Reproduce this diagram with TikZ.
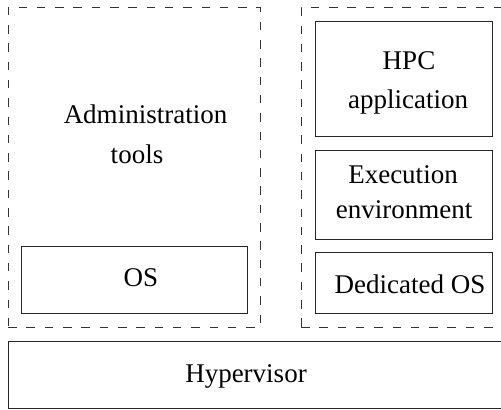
\documentclass[tikz,border=0pt]{standalone}
\usepackage{fontspec}
\setmainfont{Liberation Serif}
\begin{document}
\begin{tikzpicture}[x=1bp,y=-1bp,
  box/.style={draw=black!85,line width=1bp,inner sep=0pt,rectangle},
  group/.style={draw=black!80,line width=1bp,dash pattern=on 8.5bp off 9.8bp},
  lbl/.style={inner sep=0pt,anchor=base,font=\fontsize{27bp}{32bp}\selectfont}]
\useasboundingbox (0,0) rectangle (501,409);
% dashed groups
\node[group,minimum width=252bp,minimum height=320bp,inner sep=0pt] (left) at (134.2,167.2) {};
\node[group,minimum width=206bp,minimum height=320bp,inner sep=0pt] (right) at (404,167.2) {};
% boxes
\node[box,minimum width=225bp,minimum height=67bp] (os) at (134.5,279.5) {};
\node[box,minimum width=177bp,minimum height=115bp] (hpc) at (403.5,78.5) {};
\node[box,minimum width=177bp,minimum height=89bp] (exec) at (403.5,194.5) {};
\node[box,minimum width=177bp,minimum height=61bp] (ded) at (403.5,282.5) {};
\node[box,minimum width=500bp,minimum height=67bp] (hyp) at (258.3,374.5) {};
% labels
\node[lbl] (t1) at (145.5,123) {Administration};
\node[lbl] (t2) at (137,163) {tools};
\node[lbl] (t3) at (141,286) {OS};
\node[lbl] (t4) at (409,69) {HPC};
\node[lbl] (t5) at (408,108) {application};
\node[lbl] (t6) at (403,183) {Execution};
\node[lbl] (t7) at (404,218) {environment};
\node[lbl] (t8) at (410,293) {Dedicated OS};
\node[lbl] (t9) at (246,382) {Hypervisor};
\end{tikzpicture}
\end{document}
